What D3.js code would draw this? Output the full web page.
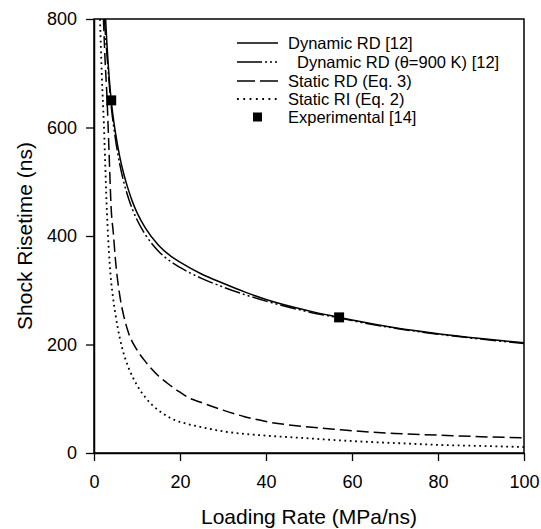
<!DOCTYPE html>
<html>
<head>
<meta charset="utf-8">
<script src="https://cdn.jsdelivr.net/npm/d3@7"></script>
<style>
  body { margin: 0; background: #fff; }
  svg { font-family: "Liberation Sans", Arial, sans-serif; }
</style>
</head>
<body>
<svg id="chart" width="541" height="529"></svg>
<script>
// values
const dynRate = [2.7, 3, 3.5, 4, 5, 6, 7, 8, 9, 10, 12, 15, 18, 20, 25, 30, 35, 40, 50, 57, 60, 70, 80, 90, 100];
const dynRise = [800, 755, 695, 650, 590, 546, 512, 485, 462, 443, 414, 383, 362, 352, 330, 313, 297, 283, 262, 250, 245, 231, 220, 211, 203];

const dyn900Rate = [2.4, 3, 4, 5, 6, 7, 8, 9, 10, 12, 15, 18, 20, 25, 30, 35, 40, 50, 57, 60, 70, 80, 90, 100];
const dyn900Rise = [800, 735, 640, 578, 532, 497, 470, 448, 430, 402, 372, 352, 342, 322, 306, 292, 280, 260, 249, 244, 230, 219, 210, 202];

const staticRdRate = [2.2, 2.6, 3, 3.5, 4, 4.5, 5, 6, 7, 8, 10, 12, 15, 17, 20, 22, 25, 30, 35, 40, 50, 57, 60, 70, 80, 90, 100];
const staticRdRise = [800, 720, 660, 555, 450, 405, 355, 290, 250, 222, 190, 168, 142, 129, 112, 102, 93, 79, 67, 58, 48, 43, 41, 36, 33, 30, 28];

const staticRiRate = [1.4, 1.8, 2.3, 3, 3.3, 4, 4.4, 5, 6, 6.5, 8, 9, 10, 12, 14, 16, 19, 22, 26, 30, 40, 48, 60, 71, 80, 90, 100];
const staticRiRise = [800, 700, 605, 445, 395, 315, 288, 255, 212, 195, 158, 140, 125, 102, 85, 73, 60, 53, 46, 40, 32, 28, 22, 18, 15, 13, 11];

const expRate = [4, 57];
const expRise = [650, 250];

const xTicks = [0, 20, 40, 60, 80, 100];
const yTicks = [0, 200, 400, 600, 800];

const legendLabels = ["Dynamic RD [12]", "Dynamic RD (\u03b8=900 K) [12]", "Static RD (Eq. 3)", "Static RI (Eq. 2)", "Experimental [14]"];

const margin = { left: 94, right: 17, top: 19, bottom: 76 };
const svg = d3.select("#chart");
const width = 541, height = 529;

const x = d3.scaleLinear().domain([0, 100]).range([margin.left, width - margin.right]);
const y = d3.scaleLinear().domain([0, 800]).range([height - margin.bottom, margin.top]);

svg.append("defs").append("clipPath").attr("id", "clip")
  .append("rect")
  .attr("x", x(0)).attr("y", y(800))
  .attr("width", x(100) - x(0)).attr("height", y(0) - y(800));

const series = [
  { rate: dynRate, rise: dynRise, dash: null, legendDash: null, w: 1.5 },
  { rate: dyn900Rate, rise: dyn900Rise, dash: "16,3,2,3,2,3", legendDash: "25,3,2,3,2,3,2", w: 1.5 },
  { rate: staticRdRate, rise: staticRdRise, dash: "12,5", legendDash: "18,5", w: 1.5 },
  { rate: staticRiRate, rise: staticRiRise, dash: "1.8,3.6", legendDash: "1.8,4.5", w: 1.8 }
];

const line = d3.line()
  .x(d => x(d[0]))
  .y(d => y(d[1]))
  .curve(d3.curveMonotoneX);

const plot = svg.append("g").attr("clip-path", "url(#clip)");

series.forEach(s => {
  plot.append("path")
    .datum(s.rate.map((r, i) => [r, s.rise[i]]))
    .attr("d", line)
    .attr("fill", "none")
    .attr("stroke", "#000")
    .attr("stroke-width", s.w)
    .attr("stroke-dasharray", s.dash);
});

plot.selectAll("rect.exp")
  .data(expRate.map((r, i) => [r, expRise[i]]))
  .enter()
  .append("rect")
  .attr("class", "exp")
  .attr("x", d => x(d[0]) - 5)
  .attr("y", d => y(d[1]) - 5)
  .attr("width", 10)
  .attr("height", 10)
  .attr("fill", "#000");

// frame
svg.append("rect")
  .attr("x", x(0)).attr("y", y(800))
  .attr("width", x(100) - x(0)).attr("height", y(0) - y(800))
  .attr("fill", "none")
  .attr("stroke", "#000")
  .attr("stroke-width", 1.5);

const xAxis = svg.append("g")
  .attr("transform", `translate(0,${y(0)})`)
  .call(d3.axisBottom(x).tickValues(xTicks).tickSize(8).tickPadding(14).tickSizeOuter(0));

const yAxis = svg.append("g")
  .attr("transform", `translate(${x(0)},0)`)
  .call(d3.axisLeft(y).tickValues(yTicks).tickSize(8).tickPadding(9).tickSizeOuter(0));

[xAxis, yAxis].forEach(a => {
  a.select(".domain").attr("stroke-width", 1.5);
  a.selectAll(".tick line").attr("stroke-width", 1.3);
  a.selectAll("text")
    .attr("font-size", 18)
    .attr("font-family", "Liberation Sans, Arial, sans-serif")
    .attr("fill", "#000");
});

svg.append("text")
  .attr("x", (x(0) + x(100)) / 2)
  .attr("y", 524)
  .attr("text-anchor", "middle")
  .attr("font-size", 21)
  .text("Loading Rate (MPa/ns)");

svg.append("text")
  .attr("transform", `translate(32,${(y(0) + y(800)) / 2}) rotate(-90)`)
  .attr("text-anchor", "middle")
  .attr("font-size", 21)
  .text("Shock Risetime (ns)");

// legend
const legendY = [43, 62, 81, 99, 117];
const legend = svg.append("g");

series.forEach((s, i) => {
  legend.append("line")
    .attr("x1", 237).attr("x2", 278)
    .attr("y1", legendY[i]).attr("y2", legendY[i])
    .attr("stroke", "#000")
    .attr("stroke-width", s.w)
    .attr("stroke-dasharray", s.legendDash);
});

legend.append("rect")
  .attr("x", 253).attr("y", legendY[4] - 4.5)
  .attr("width", 9).attr("height", 9)
  .attr("fill", "#000");

legend.selectAll("text")
  .data(legendLabels)
  .enter()
  .append("text")
  .attr("x", (d, i) => i === 1 ? 297 : 288)
  .attr("y", (d, i) => legendY[i])
  .attr("dy", "0.36em")
  .attr("font-size", 16.5)
  .text(d => d);
</script>
</body>
</html>
